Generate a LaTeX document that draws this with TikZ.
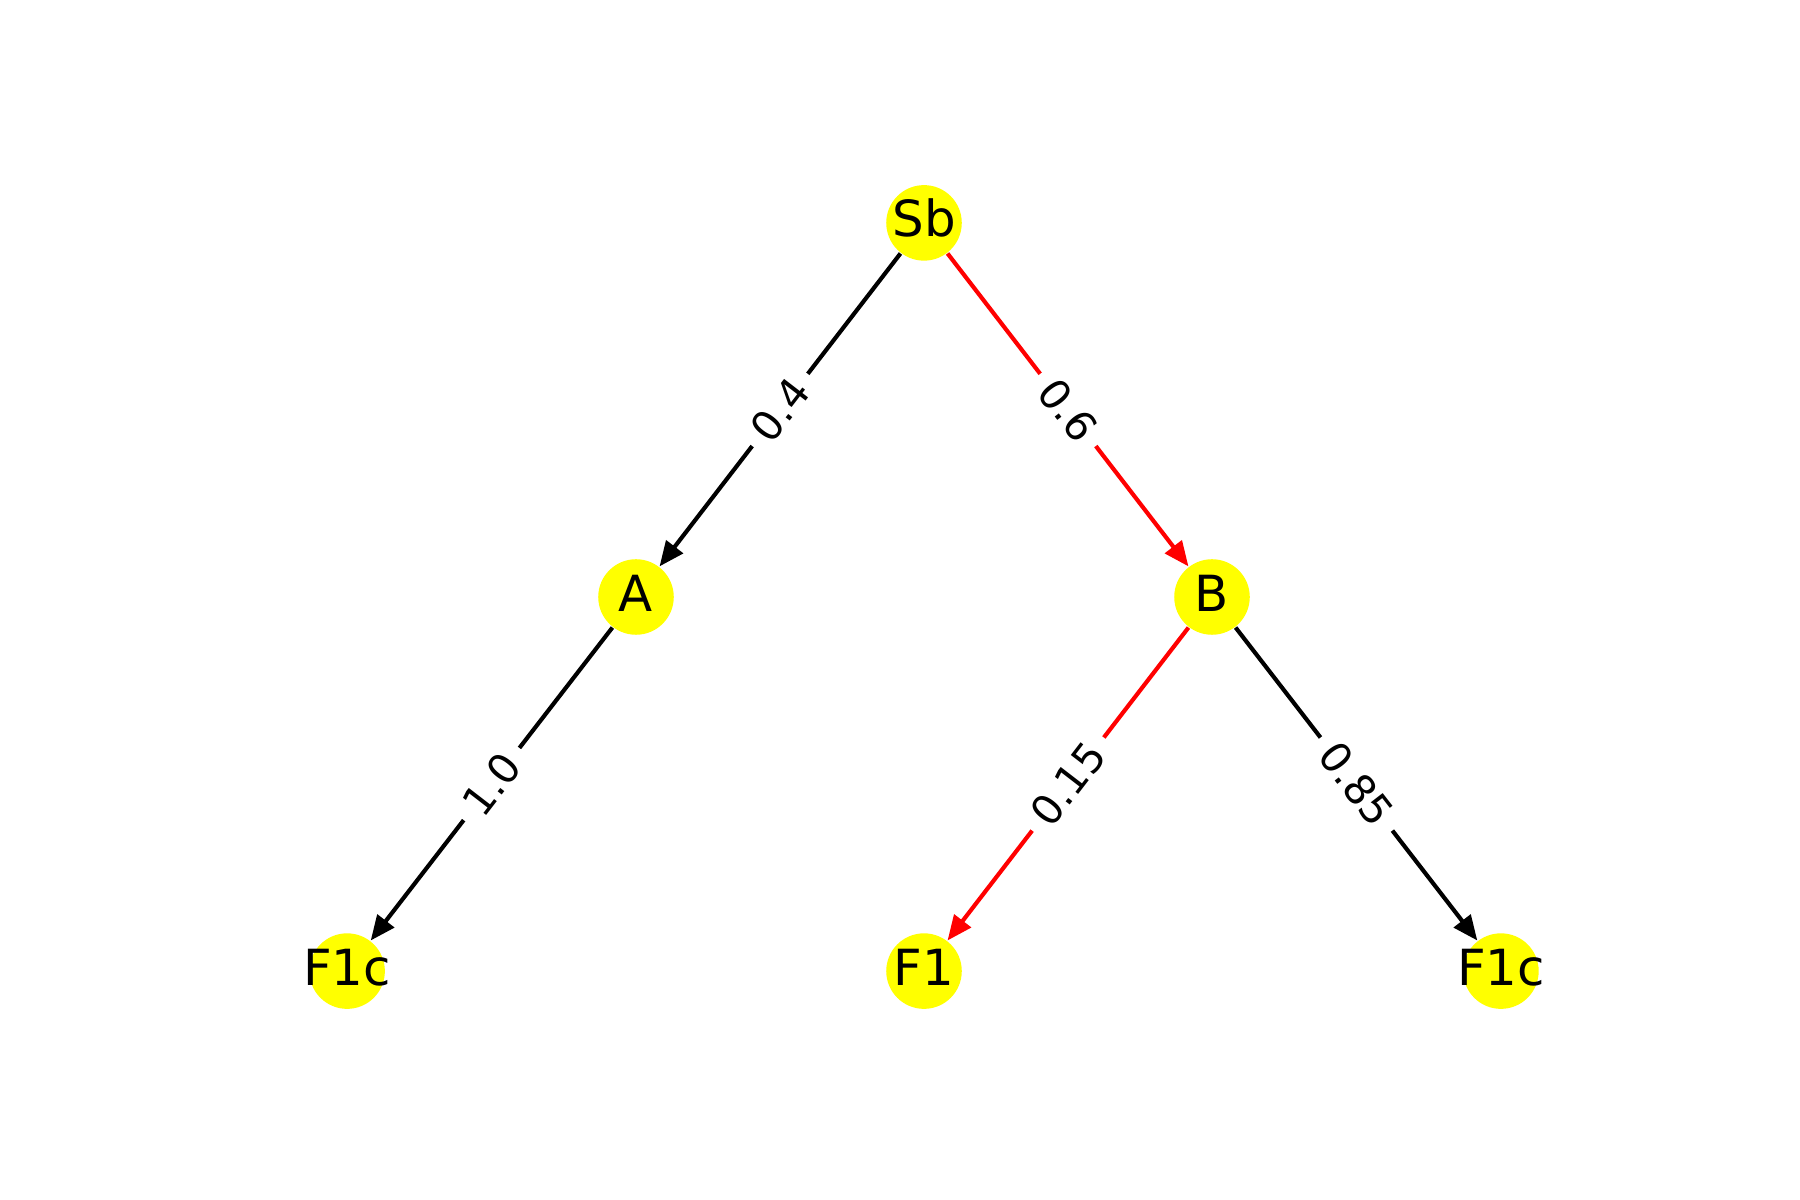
\documentclass[tikz,border=0pt]{standalone}
\usepackage{fontspec}
\setmainfont{DejaVu Sans}
\usetikzlibrary{arrows.meta}
\definecolor{nodeyellow}{rgb}{1,1,0}
\definecolor{pathred}{rgb}{1,0,0}

\begin{document}
\begin{tikzpicture}[x=1in,y=1in,
  state/.style={circle, fill=nodeyellow, inner sep=0pt, minimum size=18.2pt, text height=8.75pt, text depth=2pt, font=\fontsize{12}{14}\selectfont},
  edge/.style={-{Triangle[length=6pt,width=5pt]}, line width=1pt},
  prob/.style={midway, sloped, fill=white, rounded corners=2pt, inner sep=3pt, text=black, font=\fontsize{10}{12}\selectfont}]
\useasboundingbox (0,0) rectangle (6,4);
\node[state] (sb) at (3.08,3.257) {\makebox[0pt]{Sb}};
\node[state] (a) at (2.12,2.01) {\makebox[0pt]{A}};
\node[state] (b) at (4.04,2.01) {\makebox[0pt]{B}};
\node[state] (fl) at (1.157,0.763) {\makebox[0pt]{F1c}};
\node[state] (f1) at (3.08,0.763) {\makebox[0pt]{F1}};
\node[state] (fr) at (5.003,0.763) {\makebox[0pt]{F1c}};
\draw[edge] (sb) -- node[prob] {0.4} (a);
\draw[edge,pathred] (sb) -- node[prob] {0.6} (b);
\draw[edge] (a) -- node[prob] {1.0} (fl);
\draw[edge,pathred] (b) -- node[prob] {0.15} (f1);
\draw[edge] (b) -- node[prob] {0.85} (fr);
\end{tikzpicture}
\end{document}
